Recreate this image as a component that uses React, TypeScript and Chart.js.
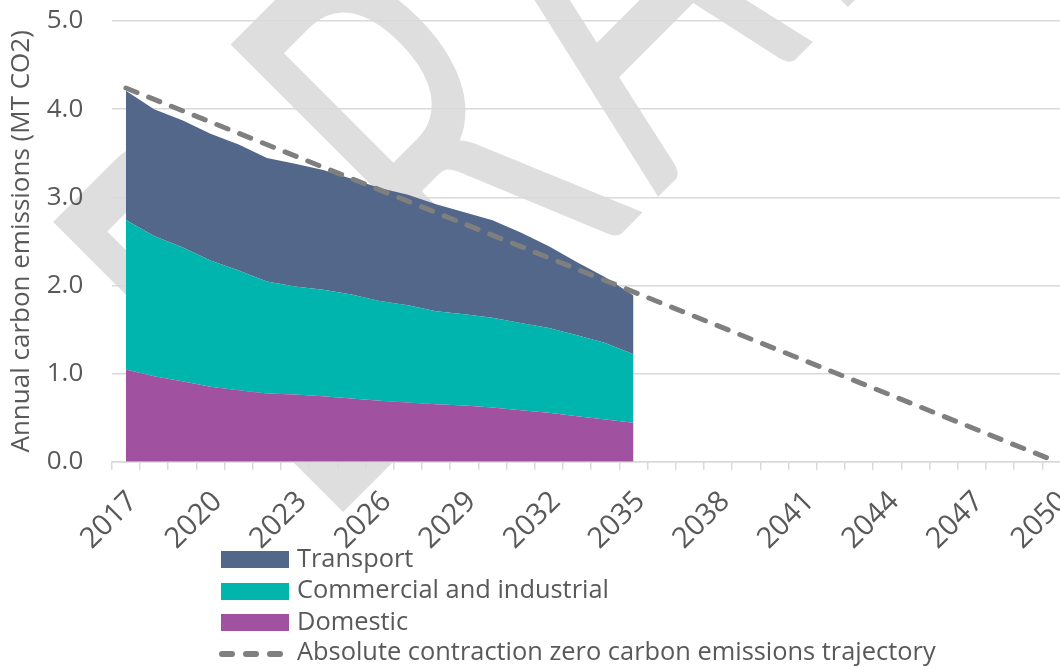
import React, { useEffect, useRef } from 'react';
import { Chart, registerables } from 'chart.js';

Chart.register(...registerables);

// ---------- data ----------
const years = [
  '2017', '2018', '2019', '2020', '2021', '2022', '2023', '2024', '2025', '2026', '2027', '2028',
  '2029', '2030', '2031', '2032', '2033', '2034', '2035', '2036', '2037', '2038', '2039', '2040',
  '2041', '2042', '2043', '2044', '2045', '2046', '2047', '2048', '2049', '2050',
];

// values for 2017 .. 2035
const domestic = [
  1.045, 0.97, 0.913, 0.849, 0.811, 0.774, 0.762, 0.743, 0.717, 0.691,
  0.672, 0.653, 0.638, 0.615, 0.585, 0.555, 0.517, 0.479, 0.442,
];
const commercial = [
  1.698, 1.592, 1.521, 1.434, 1.359, 1.271, 1.227, 1.208, 1.181, 1.132,
  1.102, 1.053, 1.034, 1.019, 0.989, 0.962, 0.917, 0.868, 0.777,
];
const transport = [
  1.467, 1.438, 1.441, 1.437, 1.43, 1.4, 1.391, 1.359, 1.312, 1.282,
  1.256, 1.214, 1.158, 1.106, 1.026, 0.928, 0.83, 0.747, 0.668,
];
const trajectoryYears = ['2017', '2050'];
const trajectoryValues = [4.24, 0];

const yTicks = [0, 1, 2, 3, 4, 5];

const seriesNames = {
  transport: 'Transport',
  commercial: 'Commercial and industrial',
  domestic: 'Domestic',
  trajectory: 'Absolute contraction zero carbon emissions trajectory',
};

// ---------- styles ----------
const COLORS = {
  transport: '#52678A',
  commercial: '#00B5AD',
  domestic: '#A052A0',
  trajectory: '#7F7F7F',
  grid: '#D9D9D9',
  text: '#595959',
  watermark: '#DEDEDE',
};
const FONT = '"Open Sans"';
const WM_FONT = 'Lato';

const CANVAS_W = 1120;
const CANVAS_H = 668;

// watermark letters: offset of each glyph's left edge along the rotated baseline
const WM_LETTERS = [
  { ch: 'D', u: 0 },
  { ch: 'R', u: 251 },
  { ch: 'A', u: 449 },
  { ch: 'F', u: 714 },
  { ch: 'T', u: 900 },
];

const watermarkPlugin = {
  id: 'draftWatermark',
  beforeDraw(chart: any) {
    const ctx = chart.ctx as CanvasRenderingContext2D;
    ctx.save();
    ctx.font = `100px ${WM_FONT}`;
    const capRatio = ctx.measureText('D').actualBoundingBoxAscent / 100;
    const size = 412 / capRatio;
    ctx.font = `${size}px ${WM_FONT}`;
    const sx = 0.57;
    ctx.translate(340, 515);
    ctx.rotate(-Math.PI / 4);
    ctx.scale(sx, 1);
    ctx.fillStyle = COLORS.watermark;
    ctx.textBaseline = 'alphabetic';
    ctx.textAlign = 'left';
    for (const l of WM_LETTERS) {
      const m = ctx.measureText(l.ch);
      ctx.fillText(l.ch, l.u / sx + m.actualBoundingBoxLeft, 0);
    }
    ctx.restore();
  },
};

function ChartCanvas() {
  const ref = useRef<HTMLCanvasElement | null>(null);
  useEffect(() => {
    if (!ref.current) return;
    const chart = new Chart(ref.current, {
      type: 'line',
      data: {
        labels: years,
        datasets: [
          {
            label: seriesNames.domestic,
            data: domestic,
            backgroundColor: COLORS.domestic,
            borderWidth: 0,
            pointRadius: 0,
            fill: 'origin',
            stack: 'areas',
            order: 1,
          },
          {
            label: seriesNames.commercial,
            data: commercial,
            backgroundColor: COLORS.commercial,
            borderWidth: 0,
            pointRadius: 0,
            fill: '-1',
            stack: 'areas',
            order: 1,
          },
          {
            label: seriesNames.transport,
            data: transport,
            backgroundColor: COLORS.transport,
            borderWidth: 0,
            pointRadius: 0,
            fill: '-1',
            stack: 'areas',
            order: 1,
          },
          {
            label: seriesNames.trajectory,
            data: trajectoryYears.map((x, i) => ({ x, y: trajectoryValues[i] })),
            borderColor: COLORS.trajectory,
            borderWidth: 5,
            borderDash: [12, 12.5],
            borderCapStyle: 'round',
            pointRadius: 0,
            fill: false,
            stack: 'line',
            order: 0,
          } as any,
        ],
      },
      options: {
        responsive: false,
        animation: false,
        events: [],
        layout: { padding: { left: 0, top: 21, right: CANVAS_W - 1070.6, bottom: 0 } },
        plugins: {
          legend: { display: false },
          tooltip: { enabled: false },
        },
        scales: {
          x: {
            type: 'category',
            offset: true,
            grid: {
              offset: true,
              drawOnChartArea: false,
              drawTicks: true,
              tickLength: 8,
              color: COLORS.grid,
              lineWidth: 1.5,
            },
            border: { display: true, color: COLORS.grid, width: 1.5 },
            ticks: {
              autoSkip: false,
              maxRotation: 45,
              minRotation: 45,
              padding: 15,
              labelOffset: 7,
              color: COLORS.text,
              font: { family: FONT, size: 29 },
              callback: (_v: any, i: number) => (i % 3 === 0 ? years[i] : ''),
            },
            afterFit: (scale: any) => {
              scale.height = CANVAS_H - 461.7;
            },
          },
          y: {
            stacked: true,
            min: 0,
            max: 5,
            afterBuildTicks: (scale: any) => {
              scale.ticks = yTicks.map((v) => ({ value: v }));
            },
            grid: {
              color: COLORS.grid,
              lineWidth: 1.5,
              drawTicks: true,
              tickLength: 28.5,
              tickColor: 'rgba(0,0,0,0)',
            },
            border: { display: false },
            ticks: {
              padding: 0,
              color: COLORS.text,
              font: { family: FONT, size: 26 },
              callback: (v: any) => Number(v).toFixed(1),
            },
            title: {
              display: true,
              text: 'Annual carbon emissions (MT CO2)',
              color: COLORS.text,
              font: { family: FONT, size: 26 },
              padding: { top: 6, bottom: 0 },
            },
            afterFit: (scale: any) => {
              scale.width = 111.8;
            },
          },
        },
      },
      plugins: [watermarkPlugin],
    });
    return () => chart.destroy();
  }, []);
  return (
    <canvas
      ref={ref}
      width={CANVAS_W}
      height={CANVAS_H}
      style={{ position: 'absolute', left: 0, top: 0, width: CANVAS_W, height: CANVAS_H }}
    />
  );
}

const LEGEND_SIZE = 25.4;
const legendRows = [
  { name: seriesNames.transport, color: COLORS.transport, baseline: 567 },
  { name: seriesNames.commercial, color: COLORS.commercial, baseline: 598.5 },
  { name: seriesNames.domestic, color: COLORS.domestic, baseline: 630 },
];

function Legend() {
  const textStyle = (baseline: number): React.CSSProperties => ({
    position: 'absolute',
    left: 297,
    top: baseline - 1.069 * LEGEND_SIZE,
    fontFamily: FONT,
    fontSize: LEGEND_SIZE,
    lineHeight: `${1.362 * LEGEND_SIZE}px`,
    color: COLORS.text,
    whiteSpace: 'nowrap',
  });
  return (
    <>
      {legendRows.map((r) => (
        <React.Fragment key={r.name}>
          <div
            style={{
              position: 'absolute',
              left: 221,
              top: r.baseline - 16,
              width: 68,
              height: 17,
              background: r.color,
            }}
          />
          <div style={textStyle(r.baseline)}>{r.name}</div>
        </React.Fragment>
      ))}
      {[219, 243, 267].map((x) => (
        <div
          key={x}
          style={{
            position: 'absolute',
            left: x,
            top: 651,
            width: 16,
            height: 6,
            borderRadius: 3,
            background: COLORS.trajectory,
          }}
        />
      ))}
      <div style={textStyle(660)}>{seriesNames.trajectory}</div>
    </>
  );
}

export default function App() {
  return (
    <div
      style={{
        position: 'fixed',
        left: 0,
        top: 0,
        width: 1060,
        height: 668,
        overflow: 'hidden',
        background: '#FFFFFF',
      }}
    >
      <ChartCanvas />
      <Legend />
    </div>
  );
}
